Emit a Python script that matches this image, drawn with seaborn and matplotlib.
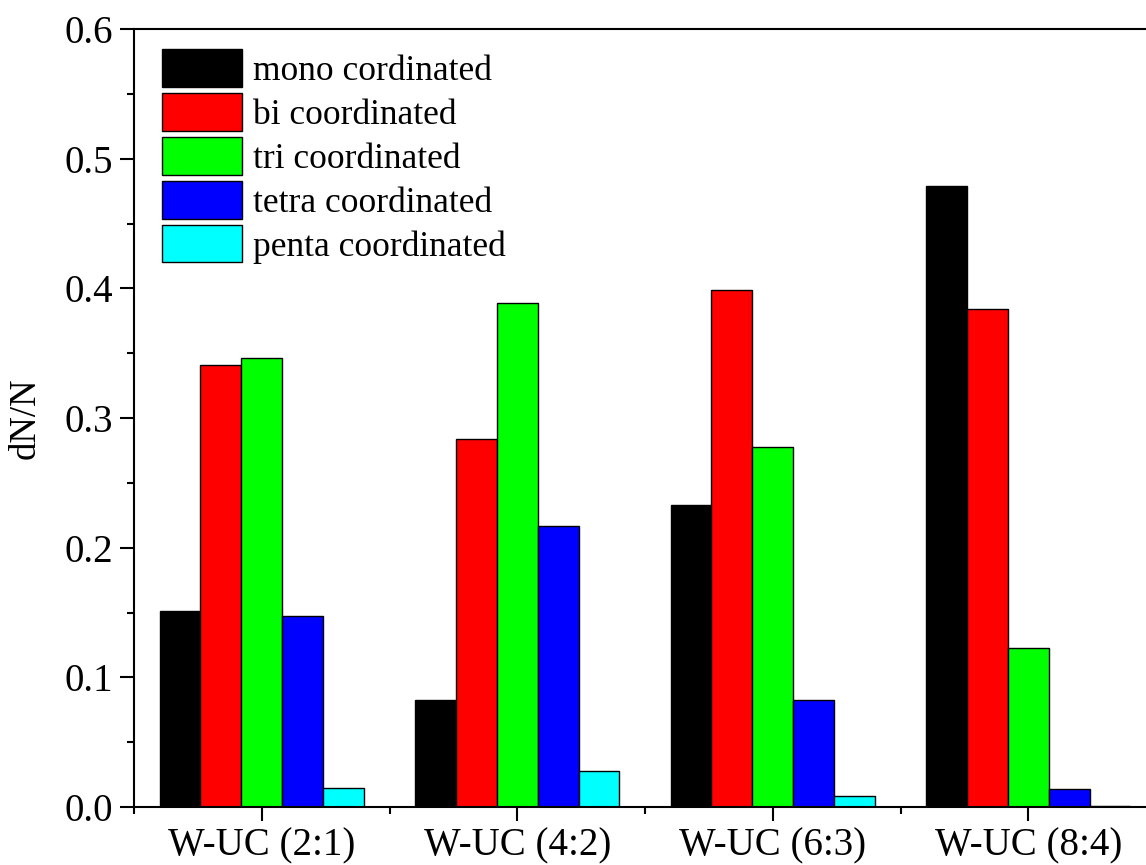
import matplotlib
matplotlib.use("Agg")
import matplotlib.pyplot as plt
from matplotlib.ticker import MultipleLocator
import seaborn as sns
import pandas as pd

categories = ["W-UC (2:1)", "W-UC (4:2)", "W-UC (6:3)", "W-UC (8:4)"]
series = ["mono cordinated", "bi coordinated", "tri coordinated",
          "tetra coordinated", "penta coordinated"]
mono = [0.151, 0.0825, 0.233, 0.479]
bi = [0.341, 0.284, 0.399, 0.384]
tri = [0.346, 0.389, 0.278, 0.123]
tetra = [0.147, 0.217, 0.0825, 0.014]
penta = [0.015, 0.028, 0.0085, 0.001]
colors = ["#000000", "#ff0000", "#00ff00", "#0000ff", "#00ffff"]

values = [mono, bi, tri, tetra, penta]
rows = []
for s, vals in zip(series, values):
    for c, v in zip(categories, vals):
        rows.append({"category": c, "series": s, "value": v})
df = pd.DataFrame(rows)

sns.set_style("ticks")
plt.rcParams["font.family"] = ["Liberation Serif", "DejaVu Serif"]
plt.rcParams["text.color"] = "black"
plt.rcParams["axes.labelcolor"] = "black"

fig = plt.figure(figsize=(11.46, 8.65), dpi=100)
ax = fig.add_axes([134/1146, 58/865, 1022/1146, 778/865])

sns.barplot(data=df, x="category", y="value", hue="series",
            hue_order=series, order=categories, palette=colors,
            edgecolor="black", linewidth=1.0, width=0.8,
            saturation=1, ax=ax)

ax.set_xlim(-0.5, 3.5)
ax.set_ylim(0, 0.6)
ax.yaxis.set_minor_locator(MultipleLocator(0.05))
ax.xaxis.set_minor_locator(MultipleLocator(1.0, offset=0.5))
ax.set_yticks([0, 0.1, 0.2, 0.3, 0.4, 0.5, 0.6])
ax.set_yticklabels(["0.0", "0.1", "0.2", "0.3", "0.4", "0.5", "0.6"])
ax.tick_params(axis="y", which="major", labelsize=28)
ax.tick_params(axis="x", which="major", labelsize=28)
ax.tick_params(axis="both", which="major", direction="out", length=10,
               width=1.5, pad=5, colors="black")
ax.tick_params(axis="both", which="minor", direction="out", length=5,
               width=1.5, colors="black")
for side in ["left", "bottom", "top", "right"]:
    ax.spines[side].set_visible(True)
    ax.spines[side].set_linewidth(1.5)
    ax.spines[side].set_color("black")

ax.set_xlabel("")
ax.set_ylabel("dN/N", fontsize=26.5, labelpad=16, color="black")

handles, labels = ax.get_legend_handles_labels()
leg = ax.legend(handles, labels, loc="upper left",
                bbox_to_anchor=(0.027, 0.974),
                frameon=False, fontsize=25.5, handlelength=2.26,
                handleheight=1.25, labelspacing=0.15, handletextpad=0.31,
                borderpad=0, borderaxespad=0)
for t in leg.get_texts():
    t.set_color("black")

fig.savefig("out.png", dpi=100)
